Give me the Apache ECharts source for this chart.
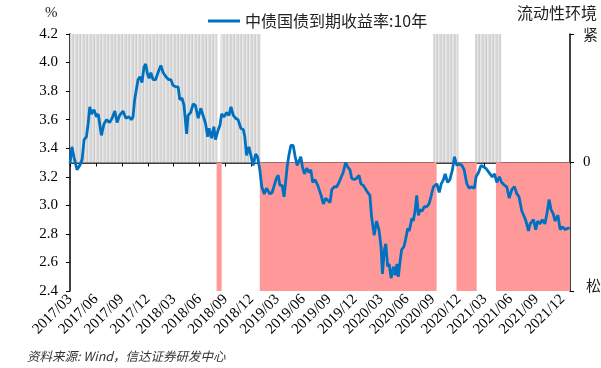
<!DOCTYPE html>
<html>
<head>
<meta charset="utf-8">
<script src="https://cdn.jsdelivr.net/npm/echarts@6/dist/echarts.min.js"></script>
<style>
  html, body { margin: 0; padding: 0; background: #fff; }
  #chart { width: 601px; height: 368px; }
</style>
</head>
<body>
<div id="chart"></div>
<script>
	// 季度刻度
	var qLabels = ['2017/03','2017/06','2017/09','2017/12','2018/03','2018/06','2018/09','2018/12',
		'2019/03','2019/06','2019/09','2019/12','2020/03','2020/06','2020/09','2020/12',
		'2021/03','2021/06','2021/09','2021/12'];
	var endDate = '2021-12-28';

	// 中债国债到期收益率:10年
	var yieldDates = [
		'2017-03-01','2017-03-08','2017-03-15','2017-03-26','2017-04-05','2017-04-13','2017-04-20','2017-04-28',
		'2017-05-04','2017-05-10','2017-05-16','2017-05-25','2017-06-03','2017-06-09','2017-06-20','2017-06-29',
		'2017-07-08','2017-07-19','2017-07-28','2017-08-07','2017-08-15','2017-08-24','2017-09-05','2017-09-15',
		'2017-09-25','2017-10-05','2017-10-10','2017-10-16','2017-10-22','2017-10-28','2017-11-04','2017-11-11',
		'2017-11-18','2017-11-24','2017-11-30','2017-12-06','2017-12-12','2017-12-20','2017-12-29','2018-01-07',
		'2018-01-17','2018-01-25','2018-02-04','2018-02-13','2018-02-20','2018-02-27','2018-03-08','2018-03-17',
		'2018-03-23','2018-03-31','2018-04-07','2018-04-16','2018-04-21','2018-04-30','2018-05-09','2018-05-17',
		'2018-05-27','2018-06-05','2018-06-13','2018-06-22','2018-06-29','2018-07-04','2018-07-13','2018-07-21',
		'2018-07-27','2018-08-06','2018-08-12','2018-08-18','2018-08-27','2018-09-05','2018-09-13','2018-09-20',
		'2018-09-28','2018-10-06','2018-10-15','2018-10-25','2018-11-03','2018-11-08','2018-11-14','2018-11-22',
		'2018-11-29','2018-12-07','2018-12-16','2018-12-23','2018-12-31','2019-01-07','2019-01-16','2019-01-24',
		'2019-02-05','2019-02-12','2019-02-19','2019-02-26','2019-03-04','2019-03-10','2019-03-18','2019-03-25',
		'2019-03-30','2019-04-05','2019-04-11','2019-04-18','2019-04-26','2019-05-02','2019-05-10','2019-05-17',
		'2019-05-23','2019-05-29','2019-06-05','2019-06-13','2019-06-21','2019-06-27','2019-07-04','2019-07-12',
		'2019-07-22','2019-07-26','2019-08-03','2019-08-11','2019-08-19','2019-08-26','2019-09-04','2019-09-10',
		'2019-09-19','2019-09-27','2019-10-05','2019-10-12','2019-10-20','2019-10-29','2019-11-05','2019-11-13',
		'2019-11-19','2019-11-28','2019-12-07','2019-12-15','2019-12-22','2019-12-30','2020-01-05','2020-01-15',
		'2020-01-23','2020-01-29','2020-02-07','2020-02-15','2020-02-23','2020-03-01','2020-03-06','2020-03-13',
		'2020-03-18','2020-03-25','2020-03-30','2020-04-06','2020-04-14','2020-04-20','2020-04-26','2020-05-01',
		'2020-05-08','2020-05-13','2020-05-21','2020-05-27','2020-06-04','2020-06-09','2020-06-18','2020-06-23',
		'2020-06-29','2020-07-05','2020-07-11','2020-07-17','2020-07-25','2020-08-01','2020-08-10','2020-08-18',
		'2020-08-25','2020-09-03','2020-09-09','2020-09-15','2020-09-23','2020-09-30','2020-10-08','2020-10-14',
		'2020-10-23','2020-10-31','2020-11-09','2020-11-16','2020-11-24','2020-12-02','2020-12-12','2020-12-20',
		'2020-12-30','2021-01-07','2021-01-16','2021-01-26','2021-02-01','2021-02-09','2021-02-17','2021-02-25',
		'2021-03-05','2021-03-12','2021-03-20','2021-03-28','2021-04-05','2021-04-13','2021-04-22','2021-04-30',
		'2021-05-10','2021-05-18','2021-05-27','2021-06-05','2021-06-14','2021-06-23','2021-06-30','2021-07-10',
		'2021-07-19','2021-07-25','2021-08-03','2021-08-09','2021-08-15','2021-08-21','2021-08-29','2021-09-05',
		'2021-09-13','2021-09-21','2021-09-30','2021-10-07','2021-10-15','2021-10-22','2021-10-30','2021-11-05',
		'2021-11-15','2021-11-23','2021-11-30','2021-12-11','2021-12-20','2021-12-27'
	];
	var yieldValues = [
		3.29,3.41,3.34,3.25,3.28,3.32,3.46,3.48,
		3.57,3.69,3.64,3.67,3.62,3.64,3.49,3.57,
		3.60,3.58,3.61,3.66,3.58,3.63,3.66,3.61,
		3.62,3.60,3.62,3.74,3.75,3.88,3.90,3.86,
		3.97,3.99,3.92,3.89,3.93,3.88,3.88,3.93,
		3.98,3.93,3.90,3.88,3.88,3.84,3.83,3.83,
		3.74,3.75,3.70,3.50,3.63,3.65,3.71,3.70,
		3.61,3.68,3.63,3.57,3.48,3.54,3.47,3.55,
		3.46,3.53,3.56,3.64,3.62,3.65,3.63,3.69,
		3.63,3.61,3.60,3.54,3.53,3.48,3.35,3.41,
		3.35,3.28,3.36,3.34,3.25,3.13,3.08,3.12,
		3.08,3.09,3.14,3.19,3.21,3.14,3.14,3.06,
		3.15,3.27,3.35,3.42,3.42,3.35,3.28,3.27,
		3.34,3.27,3.22,3.26,3.23,3.25,3.16,3.18,
		3.14,3.15,3.07,3.01,3.05,3.05,3.02,3.11,
		3.13,3.13,3.16,3.16,3.23,3.30,3.27,3.25,
		3.19,3.18,3.19,3.21,3.15,3.14,3.15,3.09,
		3.07,2.92,2.79,2.89,2.83,2.71,2.52,2.69,
		2.73,2.57,2.59,2.49,2.57,2.51,2.59,2.50,
		2.62,2.69,2.71,2.76,2.84,2.82,2.91,2.89,
		2.96,3.07,2.93,2.97,2.96,2.99,2.99,3.01,
		3.06,3.13,3.14,3.15,3.09,3.15,3.18,3.22,
		3.16,3.18,3.25,3.34,3.28,3.29,3.28,3.25,
		3.15,3.12,3.13,3.12,3.20,3.23,3.28,3.27,
		3.26,3.25,3.22,3.20,3.22,3.16,3.20,3.16,
		3.14,3.13,3.05,3.11,3.13,3.08,3.06,2.96,
		2.92,2.89,2.82,2.87,2.86,2.90,2.83,2.89,
		2.87,2.90,2.87,2.94,3.04,2.97,2.94,2.89,
		2.93,2.83,2.85,2.83,2.84,2.84
	];

	// 流动性环境：紧 / 松 区间
	var tightPeriods = [
		['2017-03-01','2018-08-03'],
		['2018-08-14','2019-01-03'],
		['2020-09-02','2020-11-30'],
		['2021-01-28','2021-04-28']
	];
	var loosePeriods = [
		['2018-07-31','2018-08-18'],
		['2018-12-31','2020-09-14'],
		['2020-11-23','2021-02-03'],
		['2021-04-10','2021-12-28']
	];

	// 日期 -> 自2017/03起的月数
	function toM(s) {
		var p = s.split('-');
		var y = +p[0], m = +p[1], d = +p[2];
		var dim = new Date(y, m, 0).getDate();
		return (y - 2017) * 12 + (m - 3) + (d - 1) / dim;
	}

	var tickValues = qLabels.map(function (l) { return toM(l.replace('/', '-') + '-01'); });

	var lineData = [];
	for (var i = 0; i < yieldDates.length; i++) {
		lineData.push([toM(yieldDates[i]), yieldValues[i]]);
	}
	var periodData = [];
	tightPeriods.forEach(function (p) { periodData.push([toM(p[0]), toM(p[1]), 1]); });
	loosePeriods.forEach(function (p) { periodData.push([toM(p[0]), toM(p[1]), -1]); });

	// 灰色竖纹
	var stripe = document.createElement('canvas');
	var stripeColors = ['#d3d3d3','#e6e6e6','#d9d9d9','#cdcdcd','#e9e9e9','#dedede','#d6d6d6'];
	stripe.width = stripeColors.length;
	stripe.height = 4;
	var sctx = stripe.getContext('2d');
	stripeColors.forEach(function (c, k) { sctx.fillStyle = c; sctx.fillRect(k, 0, 1, 4); });

	var serif = '"Liberation Serif", "Times New Roman", serif';
	var cjk = '"Noto Sans CJK SC", sans-serif';

	var myChart = echarts.init(document.getElementById('chart'));
	myChart.setOption({
		animation: false,
		grid: { left: 70, right: 31, top: 34, bottom: 77, containLabel: false, outerBoundsMode: 'none' },
		legend: {
			left: 203,
			top: 8,
			itemWidth: 32,
			itemHeight: 3,
			itemGap: 5,
			icon: 'rect',
			data: ['中债国债到期收益率:10年'],
			textStyle: { fontSize: 16, fontFamily: cjk, color: '#222' }
		},
		xAxis: {
			type: 'value',
			min: 0,
			max: toM(endDate),
			splitLine: { show: false },
			axisLine: { lineStyle: { color: '#000', width: 1.5 } },
			axisTick: { show: true, length: 4, customValues: tickValues, lineStyle: { color: '#000' } },
			axisLabel: {
				rotate: 45,
				margin: 6,
				customValues: tickValues,
				fontSize: 15,
				fontFamily: serif,
				color: '#000',
				formatter: function (v) {
					var k = Math.round(v / 3);
					return Math.abs(v - k * 3) < 0.01 && qLabels[k] ? qLabels[k] : '';
				}
			}
		},
		yAxis: [
			{
				type: 'value',
				min: 2.4,
				max: 4.2,
				interval: 0.2,
				splitLine: { show: false },
				axisLine: { show: true, lineStyle: { color: '#000', width: 1.5 } },
				axisTick: { show: true, length: 4, lineStyle: { color: '#000' } },
				axisLabel: {
					margin: 12,
					fontSize: 15,
					fontFamily: serif,
					color: '#000',
					formatter: function (v) { return v.toFixed(1); }
				}
			},
			{
				type: 'value',
				position: 'right',
				min: -1,
				max: 1,
				interval: 1,
				splitLine: { show: false },
				axisLine: { show: true, lineStyle: { color: '#000', width: 1.5 } },
				axisTick: { show: true, length: 4, lineStyle: { color: '#000' } },
				axisLabel: {
					margin: 13,
					fontSize: 15,
					fontFamily: serif,
					color: '#000',
					formatter: function (v) {
						if (v === 1) return '{c|紧}';
						if (v === -1) return '{s|松}';
						return String(v);
					},
					rich: {
						c: { fontSize: 15, fontFamily: cjk, color: '#222', padding: [0, 0, 0, 0] },
						s: { fontSize: 15, fontFamily: cjk, color: '#222', padding: [0, 0, 12, 3] }
					}
				}
			}
		],
		graphic: [
			{ type: 'text', left: 45, top: 6, style: { text: '%', font: '15px ' + serif, fill: '#222' } },
			{ type: 'text', left: 517, top: 5, style: { text: '流动性环境', font: '16px ' + cjk, fill: '#222' } },
			{ type: 'text', left: 27, top: 350, style: { text: '资料来源: Wind，信达证券研发中心', font: 'italic 12.5px ' + cjk, fill: '#333' } }
		],
		series: [
			{
				name: '流动性',
				type: 'custom',
				xAxisIndex: 0,
				yAxisIndex: 1,
				z: 1,
				encode: { x: [0, 1], y: 2 },
				data: periodData,
				renderItem: function (params, api) {
					var v = api.value(2);
					var p0 = api.coord([api.value(0), 0]);
					var p1 = api.coord([api.value(1), v]);
					return {
						type: 'rect',
						shape: {
							x: p0[0],
							y: Math.min(p0[1], p1[1]),
							width: p1[0] - p0[0],
							height: Math.abs(p1[1] - p0[1])
						},
						style: { fill: v > 0 ? { image: stripe, repeat: 'repeat' } : '#ff9898' }
					};
				}
			},
			{
				name: '中债国债到期收益率:10年',
				type: 'line',
				z: 3,
				symbol: 'none',
				data: lineData,
				lineStyle: { color: '#0070c0', width: 2.8 },
				itemStyle: { color: '#0070c0' }
			}
		]
	});
</script>
</body>
</html>
